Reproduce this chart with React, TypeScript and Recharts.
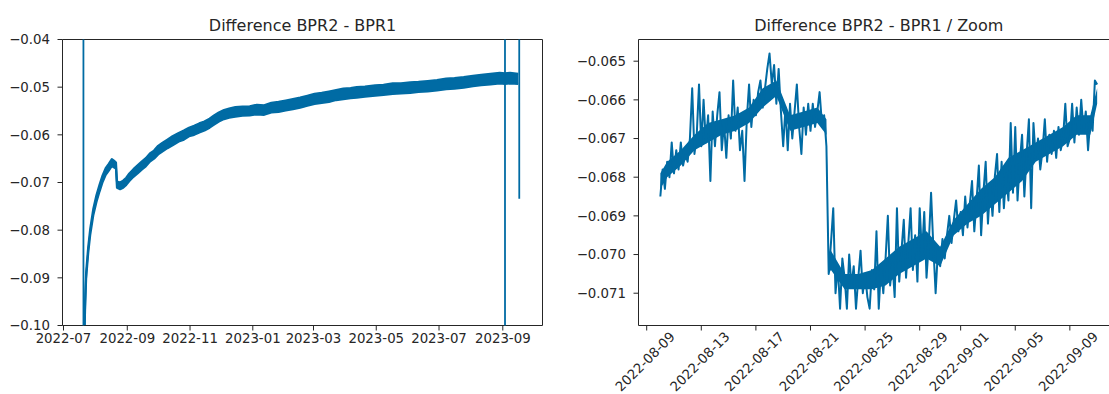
import React from 'react';
import { ComposedChart, Area, Line, XAxis, YAxis, ReferenceArea } from 'recharts';

// ---------- Full record: BPR2 - BPR1, lower / upper edge of the noisy band ----------
const fullDates = [
  '2022-07-21', '2022-07-22', '2022-07-23', '2022-07-25', '2022-07-27', '2022-07-30',
  '2022-08-02', '2022-08-05', '2022-08-08', '2022-08-11', '2022-08-14', '2022-08-17',
  '2022-08-19', '2022-08-21', '2022-08-22', '2022-08-25', '2022-08-28', '2022-08-31',
  '2022-09-03', '2022-09-07', '2022-09-11', '2022-09-15', '2022-09-19', '2022-09-23',
  '2022-09-27', '2022-10-01', '2022-10-05', '2022-10-10', '2022-10-15', '2022-10-21',
  '2022-10-26', '2022-10-31', '2022-11-05', '2022-11-10', '2022-11-15', '2022-11-20',
  '2022-11-24', '2022-11-29', '2022-12-04', '2022-12-09', '2022-12-15', '2022-12-22',
  '2022-12-29', '2023-01-05', '2023-01-12', '2023-01-19', '2023-01-26', '2023-02-02',
  '2023-02-09', '2023-02-16', '2023-02-23', '2023-03-02', '2023-03-09', '2023-03-16',
  '2023-03-23', '2023-03-30', '2023-04-06', '2023-04-12', '2023-04-20', '2023-04-30',
  '2023-05-08', '2023-05-17', '2023-05-25', '2023-06-03', '2023-06-11', '2023-06-20',
  '2023-06-29', '2023-07-08', '2023-07-16', '2023-07-25', '2023-08-03', '2023-08-11',
  '2023-08-20', '2023-08-29', '2023-09-03', '2023-09-08', '2023-09-16',
];
const fullLow = [
  -0.1056, -0.0961, -0.0901, -0.0848, -0.0809, -0.0768,
  -0.0741, -0.0719, -0.0699, -0.0684, -0.0675, -0.0665,
  -0.0668, -0.0671, -0.0711, -0.0714, -0.0711, -0.0705,
  -0.0697, -0.0688, -0.0681, -0.0673, -0.0666, -0.0656,
  -0.0650, -0.0641, -0.0635, -0.0628, -0.0622, -0.0614,
  -0.0610, -0.0603, -0.0600, -0.0595, -0.0591, -0.0585,
  -0.0579, -0.0572, -0.0567, -0.0564, -0.0562, -0.0560,
  -0.0559, -0.0557, -0.0558, -0.0553, -0.0552, -0.0549,
  -0.0546, -0.0543, -0.0539, -0.0535, -0.0533, -0.0531,
  -0.0527, -0.0525, -0.0523, -0.0522, -0.0520, -0.0518,
  -0.0516, -0.0514, -0.0513, -0.0512, -0.0510, -0.0509,
  -0.0507, -0.0504, -0.0503, -0.0501, -0.0498, -0.0496,
  -0.0494, -0.0492, -0.0493, -0.0492, -0.0493,
];
const fullHigh = [
  -0.1044, -0.0949, -0.0889, -0.0836, -0.0797, -0.0755,
  -0.0727, -0.0705, -0.0685, -0.0670, -0.0661, -0.0651,
  -0.0654, -0.0658, -0.0698, -0.0700, -0.0696, -0.0690,
  -0.0681, -0.0672, -0.0664, -0.0656, -0.0649, -0.0639,
  -0.0633, -0.0623, -0.0617, -0.0610, -0.0603, -0.0596,
  -0.0591, -0.0585, -0.0581, -0.0576, -0.0572, -0.0566,
  -0.0560, -0.0553, -0.0548, -0.0545, -0.0542, -0.0541,
  -0.0540, -0.0537, -0.0538, -0.0533, -0.0531, -0.0528,
  -0.0525, -0.0522, -0.0518, -0.0514, -0.0512, -0.0509,
  -0.0506, -0.0503, -0.0502, -0.0500, -0.0499, -0.0496,
  -0.0495, -0.0492, -0.0492, -0.0490, -0.0489, -0.0487,
  -0.0485, -0.0482, -0.0481, -0.0479, -0.0476, -0.0474,
  -0.0472, -0.0470, -0.0471, -0.0470, -0.0472,
];

// Spurious samples that shoot off the scale (each pair is one glitch)
const glitchTimes = [
  ['2022-07-20T06:00', '2022-07-20T12:00'],
  ['2023-09-03T00:00', '2023-09-03T06:00'],
  ['2023-09-16T18:00', '2023-09-17T00:00'],
];
const glitchValues = [
  [0.2, -0.3],
  [0.2, -0.3],
  [0.2, -0.0734],
];

const fullRange = ['2022-06-30T00:40', '2023-10-09T14:00'];
const fullTickDates = [
  '2022-07-01', '2022-09-01', '2022-11-01', '2023-01-01',
  '2023-03-01', '2023-05-01', '2023-07-01', '2023-09-01',
];
const fullTickLabels = [
  '2022-07', '2022-09', '2022-11', '2023-01', '2023-03', '2023-05', '2023-07', '2023-09',
];
const fullYTicks = [-0.1, -0.09, -0.08, -0.07, -0.06, -0.05, -0.04];

// ---------- Zoom: 2022-08-10 .. 2022-09-11, readings at 00/04/08/12/16/20 h ----------
const zoomDays = [
  '2022-08-10', '2022-08-11', '2022-08-12', '2022-08-13', '2022-08-14', '2022-08-15',
  '2022-08-16', '2022-08-17', '2022-08-18', '2022-08-19', '2022-08-20', '2022-08-21',
  '2022-08-22', '2022-08-23', '2022-08-24', '2022-08-25', '2022-08-26', '2022-08-27',
  '2022-08-28', '2022-08-29', '2022-08-30', '2022-08-31', '2022-09-01', '2022-09-02',
  '2022-09-03', '2022-09-04', '2022-09-05', '2022-09-06', '2022-09-07', '2022-09-08',
  '2022-09-09', '2022-09-10', '2022-09-11',
];
const zoomHours = [0, 4, 8, 12, 16, 20];
const zoomValues = [
  [-0.0685, -0.0678, -0.0683, -0.0676, -0.0680, -0.0671],
  [-0.0679, -0.0673, -0.0678, -0.0671, -0.0677, -0.0674],
  [-0.0676, -0.0670, -0.0657, -0.0674, -0.0669, -0.0656],
  [-0.0672, -0.0660, -0.0671, -0.0664, -0.0681, -0.0663],
  [-0.0672, -0.0664, -0.0658, -0.0673, -0.0666, -0.0675],
  [-0.0664, -0.0670, -0.0655, -0.0668, -0.0662, -0.0673],
  [-0.0668, -0.0681, -0.0665, -0.0656, -0.0667, -0.0660],
  [-0.0664, -0.0658, -0.0655, -0.0662, -0.0657, -0.0652],
  [-0.0648, -0.0656, -0.0651, -0.0661, -0.0652, -0.0663],
  [-0.0672, -0.0662, -0.0673, -0.0661, -0.0670, -0.0663],
  [-0.0656, -0.0667, -0.0674, -0.0662, -0.0669, -0.0661],
  [-0.0668, -0.0661, -0.0667, -0.0663, -0.0658, -0.0666],
  [-0.0664, -0.0672, -0.0705, -0.0697, -0.0688, -0.0710],
  [-0.0703, -0.0714, -0.0701, -0.0706, -0.0714, -0.0700],
  [-0.0708, -0.0703, -0.0714, -0.0706, -0.0699, -0.0710],
  [-0.0705, -0.0711, -0.0714, -0.0704, -0.0709, -0.0694],
  [-0.0714, -0.0703, -0.0710, -0.0701, -0.0690, -0.0708],
  [-0.0702, -0.0711, -0.0688, -0.0707, -0.0699, -0.0691],
  [-0.0706, -0.0697, -0.0688, -0.0704, -0.0695, -0.0707],
  [-0.0688, -0.0700, -0.0689, -0.0706, -0.0697, -0.0684],
  [-0.0698, -0.0710, -0.0699, -0.0703, -0.0696, -0.0701],
  [-0.0695, -0.0690, -0.0697, -0.0691, -0.0686, -0.0694],
  [-0.0689, -0.0695, -0.0685, -0.0693, -0.0687, -0.0681],
  [-0.0694, -0.0686, -0.0677, -0.0695, -0.0684, -0.0676],
  [-0.0692, -0.0682, -0.0690, -0.0680, -0.0674, -0.0689],
  [-0.0676, -0.0688, -0.0679, -0.0686, -0.0666, -0.0684],
  [-0.0667, -0.0686, -0.0676, -0.0669, -0.0685, -0.0674],
  [-0.0665, -0.0688, -0.0666, -0.0675, -0.0670, -0.0678],
  [-0.0673, -0.0665, -0.0676, -0.0669, -0.0674, -0.0668],
  [-0.0675, -0.0667, -0.0673, -0.0670, -0.0661, -0.0672],
  [-0.0670, -0.0661, -0.0671, -0.0662, -0.0669, -0.0660],
  [-0.0668, -0.0663, -0.0673, -0.0665, -0.0668, -0.0655],
  [-0.0656],
];

// Dense core of the high-frequency noise in the zoom window
const zoomCoreTimes = [
  '2022-08-10T00:00', '2022-08-10T12:00', '2022-08-11T12:00', '2022-08-12T12:00',
  '2022-08-13T12:00', '2022-08-14T12:00', '2022-08-15T12:00', '2022-08-16T12:00',
  '2022-08-17T12:00', '2022-08-18T12:00', '2022-08-19T12:00', '2022-08-20T12:00',
  '2022-08-21T12:00', '2022-08-22T04:00', '2022-08-22T08:00', '2022-08-22T12:00',
  '2022-08-23T12:00', '2022-08-24T12:00', '2022-08-25T12:00', '2022-08-26T12:00',
  '2022-08-27T12:00', '2022-08-28T12:00', '2022-08-29T12:00', '2022-08-30T12:00',
  '2022-08-31T12:00', '2022-09-01T12:00', '2022-09-02T12:00', '2022-09-03T12:00',
  '2022-09-04T12:00', '2022-09-05T12:00', '2022-09-06T12:00', '2022-09-07T12:00',
  '2022-09-08T12:00', '2022-09-09T12:00', '2022-09-10T12:00', '2022-09-11T00:00',
];
const zoomCoreLow = [
  -0.0683, -0.0680, -0.0677, -0.0673, -0.0671, -0.0669, -0.0668, -0.0666,
  -0.0662, -0.0659, -0.0668, -0.0667, -0.0666, -0.0669, -0.0705, -0.0704,
  -0.0709, -0.0709, -0.0709, -0.0708, -0.0705, -0.0703, -0.0701, -0.0703,
  -0.0695, -0.0692, -0.0690, -0.0687, -0.0684, -0.0681, -0.0676, -0.0674,
  -0.0672, -0.0669, -0.0669, -0.0661,
];
const zoomCoreHigh = [
  -0.0679, -0.0676, -0.0673, -0.0669, -0.0666, -0.0665, -0.0664, -0.0662,
  -0.0657, -0.0655, -0.0664, -0.0663, -0.0662, -0.0665, -0.0700, -0.0699,
  -0.0705, -0.0705, -0.0704, -0.0701, -0.0698, -0.0696, -0.0694, -0.0698,
  -0.0691, -0.0687, -0.0683, -0.0680, -0.0675, -0.0673, -0.0671, -0.0669,
  -0.0667, -0.0664, -0.0664, -0.0657,
];

const zoomRange = ['2022-08-08T09:36', '2022-09-12T14:24'];
const zoomYRange = [-0.071835, -0.064439];
const zoomTickDates = [
  '2022-08-09', '2022-08-13', '2022-08-17', '2022-08-21', '2022-08-25',
  '2022-08-29', '2022-09-01', '2022-09-05', '2022-09-09',
];
const zoomYTicks = [-0.071, -0.07, -0.069, -0.068, -0.067, -0.066, -0.065];

// ---------- helpers ----------
const FONT = "'DejaVu Sans', 'Liberation Sans', sans-serif";
const INK = '#262626';
const BLUE = '#006BA4';
const TICK_FS = 13.33;

const toMs = (s: string) => Date.parse(s.length === 10 ? `${s}T00:00:00Z` : `${s}:00Z`);
const HOUR = 3600 * 1000;

const fullBand = fullDates.map((d, i) => ({ t: toMs(d), band: [fullLow[i], fullHigh[i]] }));
const glitchData: { t: number; v: number | null }[] = [];
glitchTimes.forEach((pair, i) => {
  pair.forEach((s, j) => glitchData.push({ t: toMs(s), v: glitchValues[i][j] }));
  glitchData.push({ t: toMs(pair[1]) + HOUR, v: null });
});
const fullDomain = fullRange.map(toMs);
const fullTickMs = fullTickDates.map(toMs);

const zoomData: { t: number; v: number }[] = [];
zoomDays.forEach((d, i) => {
  zoomValues[i].forEach((v, j) => zoomData.push({ t: toMs(d) + zoomHours[j] * HOUR, v }));
});
const zoomCore = zoomCoreTimes.map((s, i) => ({ t: toMs(s), band: [zoomCoreLow[i], zoomCoreHigh[i]] }));
const zoomDomain = zoomRange.map(toMs);
const zoomTickMs = zoomTickDates.map(toMs);

const minusText = (v: number, digits: number) => v.toFixed(digits).replace('-', '\u2212');

function MonthTick(props: any) {
  const { x, y, payload } = props;
  const label = fullTickLabels[fullTickMs.indexOf(payload.value)];
  return (
    <text x={x} y={y + 8.7} textAnchor="middle" fontSize={TICK_FS} fontFamily={FONT} fill={INK}>
      {label}
    </text>
  );
}

function DayTick(props: any) {
  const { x, y, payload } = props;
  const label = zoomTickDates[zoomTickMs.indexOf(payload.value)];
  const cx = x - 1.5;
  const cy = y + 27;
  return (
    <text
      x={cx}
      y={cy}
      dy="0.35em"
      textAnchor="middle"
      transform={`rotate(-45 ${cx} ${cy})`}
      fontSize={TICK_FS}
      fontFamily={FONT}
      fill={INK}
    >
      {label}
    </text>
  );
}

function valueTick(digits: number) {
  return (props: any) => {
    const { x, y, payload } = props;
    return (
      <text x={x} y={y} dy="0.36em" textAnchor="end" fontSize={TICK_FS} fontFamily={FONT} fill={INK}>
        {minusText(payload.value, digits)}
      </text>
    );
  };
}

export default function App() {
  return (
    <div style={{ position: 'relative', width: 1109, height: 394, overflow: 'hidden', background: '#fff' }}>
      <style>{'html,body{margin:0;padding:0;overflow:hidden;background:#fff}'}</style>

      <div style={{ position: 'absolute', left: 0, top: 0 }}>
        <ComposedChart width={560} height={394} data={fullBand} margin={{ top: 39.5, right: 17.5, bottom: 0, left: 0 }}>
          <XAxis
            dataKey="t"
            type="number"
            domain={fullDomain}
            ticks={fullTickMs}
            interval={0}
            allowDataOverflow
            height={68.5}
            tickSize={5}
            tickMargin={4}
            axisLine={false}
            tickLine={{ stroke: INK }}
            tick={MonthTick}
          />
          <YAxis
            type="number"
            domain={[-0.1, -0.04]}
            ticks={fullYTicks}
            interval={0}
            allowDataOverflow
            width={62.5}
            tickSize={5}
            tickMargin={7.5}
            axisLine={false}
            tickLine={{ stroke: INK }}
            tick={valueTick(2)}
          />
          <Area
            dataKey="band"
            type="linear"
            fill={BLUE}
            fillOpacity={1}
            stroke={BLUE}
            strokeWidth={2.2}
            strokeLinejoin="round"
            dot={false}
            activeDot={false}
            isAnimationActive={false}
          />
          <Line
            data={glitchData}
            dataKey="v"
            type="linear"
            stroke={BLUE}
            strokeWidth={1.8}
            dot={false}
            activeDot={false}
            isAnimationActive={false}
          />
          <ReferenceArea
            x1={fullDomain[0]}
            x2={fullDomain[1]}
            y1={-0.1}
            y2={-0.04}
            fill="none"
            fillOpacity={0}
            stroke={INK}
            strokeWidth={1}
          />
        </ComposedChart>
      </div>

      <div style={{ position: 'absolute', left: 560, top: 0 }}>
        <ComposedChart width={570} height={394} data={zoomCore} margin={{ top: 39.5, right: 11, bottom: 0, left: 0 }}>
          <XAxis
            dataKey="t"
            type="number"
            domain={zoomDomain}
            ticks={zoomTickMs}
            interval={0}
            allowDataOverflow
            height={68.5}
            tickSize={5}
            tickMargin={4}
            axisLine={false}
            tickLine={{ stroke: INK }}
            tick={DayTick}
          />
          <YAxis
            type="number"
            domain={zoomYRange}
            ticks={zoomYTicks}
            interval={0}
            allowDataOverflow
            width={78.5}
            tickSize={5}
            tickMargin={7.5}
            axisLine={false}
            tickLine={{ stroke: INK }}
            tick={valueTick(3)}
          />
          <Area
            dataKey="band"
            type="linear"
            fill={BLUE}
            fillOpacity={1}
            stroke="none"
            dot={false}
            activeDot={false}
            isAnimationActive={false}
          />
          <Line
            data={zoomData}
            dataKey="v"
            type="linear"
            stroke={BLUE}
            strokeWidth={2}
            strokeLinejoin="round"
            dot={false}
            activeDot={false}
            isAnimationActive={false}
          />
          <ReferenceArea
            x1={zoomDomain[0]}
            x2={zoomDomain[1]}
            y1={zoomYRange[0]}
            y2={zoomYRange[1]}
            fill="none"
            fillOpacity={0}
            stroke={INK}
            strokeWidth={1}
          />
        </ComposedChart>
      </div>

      <svg width={1109} height={394} style={{ position: 'absolute', left: 0, top: 0, pointerEvents: 'none' }}>
        <text x={302.5} y={31} textAnchor="middle" fontSize={16} fontFamily={FONT} fill={INK}>
          Difference BPR2 - BPR1
        </text>
        <text x={878.75} y={31} textAnchor="middle" fontSize={16} fontFamily={FONT} fill={INK}>
          Difference BPR2 - BPR1 / Zoom
        </text>
      </svg>
    </div>
  );
}
